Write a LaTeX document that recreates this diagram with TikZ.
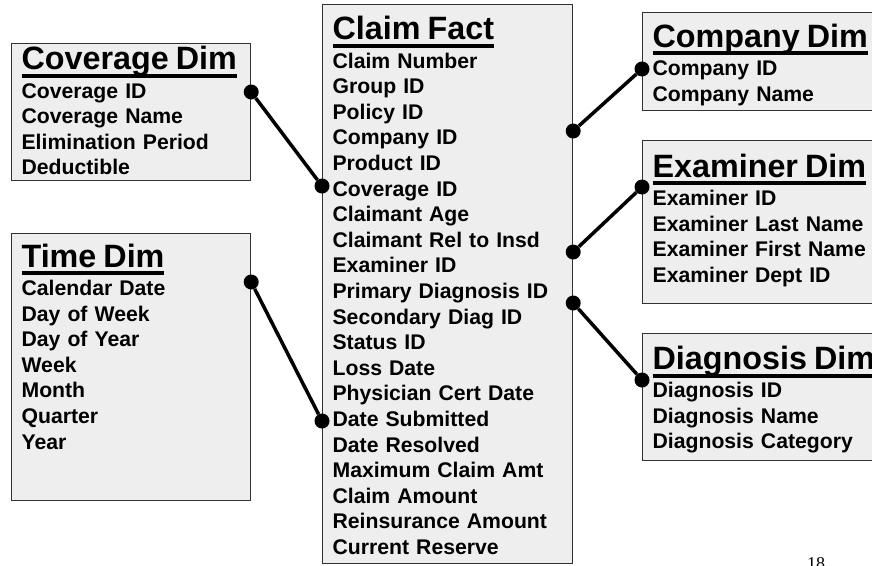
\documentclass[tikz,border=0pt]{standalone}
\usepackage{fontspec}
\setmainfont{Liberation Sans}
\newfontfamily\pagefont{Liberation Serif}
\usepackage{xcolor}
\definecolor{boxgray}{RGB}{238,238,238}
\definecolor{edgegray}{RGB}{50,50,50}
\newcommand{\dimtitle}[1]{{\fontsize{32.3}{36}\selectfont\setbox0\hbox{#1}\rlap{\rule[-8pt]{\wd0}{4pt}}\box0}}

\begin{document}
\begin{tikzpicture}[x=1pt, y=-1pt,
    dimbox/.style={draw=edgegray, line width=1.2pt, fill=boxgray, anchor=north west, inner xsep=10pt, inner ysep=0pt, font=\bfseries\fontsize{21.2}{25.6}\selectfont},
    keydot/.style={circle, fill=black, inner sep=0pt, minimum size=15pt},
    link/.style={line width=3.5pt}]
    \useasboundingbox (0,0) rectangle (872,565);
    \clip (0,0) rectangle (872,565);

    \node (cov) [dimbox, text width=219pt, text height=26.3pt, text depth=110.7pt] at (11,43) {
        \begin{tabular}[t]{@{}l@{}}
            \dimtitle{Coverage Dim} \\[2.5pt]
            Coverage ID \\ Coverage Name \\ Elimination Period \\ Deductible
        \end{tabular}
    };

    \node (time) [dimbox, text width=219pt, text height=33.7pt, text depth=233.3pt] at (11,233) {
        \begin{tabular}[t]{@{}l@{}}
            \dimtitle{Time Dim} \\[2.5pt]
            Calendar Date \\ Day of Week \\ Day of Year \\ Week \\ Month \\ Quarter \\ Year
        \end{tabular}
    };

    \node (cf) [dimbox, text width=230pt, text height=35.3pt, text depth=523.7pt] at (322,4) {
        \begin{tabular}[t]{@{}l@{}}
            \dimtitle{Claim Fact} \\[2.5pt]
            Claim Number \\ Group ID \\ Policy ID \\ Company ID \\ Product ID \\
            Coverage ID \\ Claimant Age \\ Claimant Rel to Insd \\ Examiner ID \\
            Primary Diagnosis ID \\ Secondary Diag ID \\ Status ID \\ Loss Date \\
            Physician Cert Date \\ Date Submitted \\ Date Resolved \\
            Maximum Claim Amt \\ Claim Amount \\ Reinsurance Amount \\ Current Reserve
        \end{tabular}
    };

    \node (co) [dimbox, text width=240pt, text height=34.7pt, text depth=63.3pt] at (642,12) {
        \begin{tabular}[t]{@{}l@{}}
            \dimtitle{Company Dim} \\[2.5pt]
            Company ID \\ Company Name
        \end{tabular}
    };

    \node (exam) [dimbox, text width=240pt, text height=36.7pt, text depth=126.3pt] at (642,140) {
        \begin{tabular}[t]{@{}l@{}}
            \dimtitle{Examiner Dim} \\[2.5pt]
            Examiner ID \\ Examiner Last Name \\ Examiner First Name \\ Examiner Dept ID
        \end{tabular}
    };

    \node (diag) [dimbox, text width=240pt, text height=36pt, text depth=91pt] at (642,333) {
        \begin{tabular}[t]{@{}l@{}}
            \dimtitle{Diagnosis Dim} \\[2.5pt]
            Diagnosis ID \\ Diagnosis Name \\ Diagnosis Category
        \end{tabular}
    };

    % key dots on the box edges
    \node (covkey) [keydot] at (cov.east |- 0,92) {};
    \node (cfcov) [keydot] at (cf.west |- 0,186) {};
    \node (timekey) [keydot] at (time.east |- 0,282) {};
    \node (cfdate) [keydot] at (cf.west |- 0,421) {};
    \node (cfco) [keydot] at (cf.east |- 0,131) {};
    \node (cokey) [keydot] at (co.west |- 0,69) {};
    \node (cfexam) [keydot] at (cf.east |- 0,252) {};
    \node (examkey) [keydot] at (exam.west |- 0,187) {};
    \node (cfdiag) [keydot] at (cf.east |- 0,303) {};
    \node (diagkey) [keydot] at (diag.west |- 0,380) {};

    % joins
    \draw[link] (covkey) -- (cfcov);
    \draw[link] (timekey) -- (cfdate);
    \draw[link] (cfco) -- (cokey);
    \draw[link] (cfexam) -- (examkey);
    \draw[link] (cfdiag) -- (diagkey);

    \node (pagenum) [anchor=north, inner sep=0pt, font=\pagefont\fontsize{18}{20}\selectfont] at (816,557) {18};
\end{tikzpicture}
\end{document}
